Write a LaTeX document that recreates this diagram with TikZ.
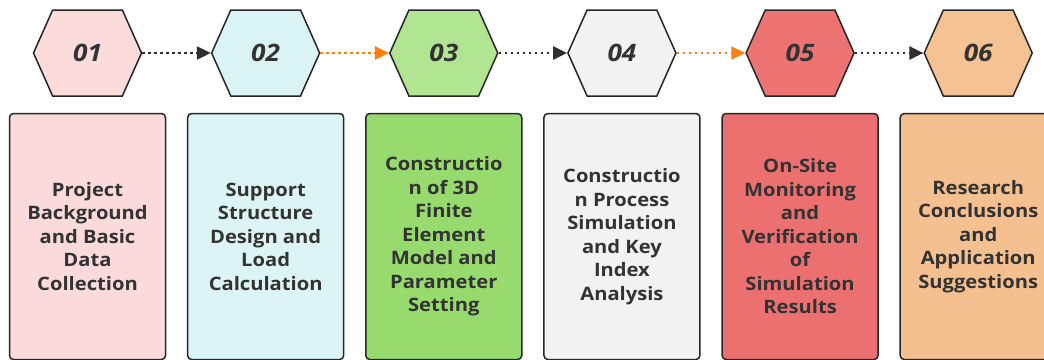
\documentclass[tikz,border=0pt]{standalone}
\usepackage{fontspec}
\setmainfont{Open Sans}
\newfontfamily\stagefont{Open Sans}[FakeStretch=1.09]
\usetikzlibrary{positioning, shapes.symbols, arrows.meta}
\definecolor{ink}{HTML}{333333}
\definecolor{edge}{HTML}{262626}
\definecolor{flowdark}{HTML}{2E2E2E}
\definecolor{floworange}{HTML}{FF7F0E}
% stage colours (hexagon / box)
\definecolor{hexA}{HTML}{FBDCDB}
\definecolor{hexB}{HTML}{DAF4F5}
\definecolor{hexC}{HTML}{B1E592}
\definecolor{hexD}{HTML}{F2F2F2}
\definecolor{hexE}{HTML}{EE7373}
\definecolor{hexF}{HTML}{F5C393}
\definecolor{boxA}{HTML}{FADADA}
\definecolor{boxB}{HTML}{DCF4F5}
\definecolor{boxC}{HTML}{97DA6D}
\definecolor{boxD}{HTML}{F2F2F2}
\definecolor{boxE}{HTML}{EC7070}
\definecolor{boxF}{HTML}{F5C090}

\begin{document}
\begin{tikzpicture}[x=1pt,y=1pt,
    stephex/.style={signal, signal to=east and west, signal pointer angle=132,
      draw=edge, line width=1.5pt, minimum width=108pt, minimum height=86pt,
      inner sep=0pt, text=ink, font=\stagefont\bfseries\itshape\fontsize{24}{24}\selectfont},
    stepbox/.style={rounded corners=4pt, draw=edge, line width=1.5pt,
      minimum width=156pt, minimum height=246pt, inner sep=2pt, align=center,
      text=ink, font=\stagefont\bfseries\fontsize{18.5}{23.5}\selectfont},
    flow/.style={line width=2.2pt, dash pattern=on 2.5pt off 3.5pt,
      -{Triangle[length=14pt,width=13pt]}}]
    \clip (0,0) rectangle (1044,-359);
    % numbered hexagons along the top
    \node[stephex, fill=hexA] (H1) at (87.5,-53) {01};
    \foreach \i/\p/\c in {2/1/hexB,3/2/hexC,4/3/hexD,5/4/hexE,6/5/hexF} {
      \node[stephex, fill=\c, right=68.5pt of H\p.east, anchor=west] (H\i) {0\i};
    }
    % dotted links between the stages
    \foreach \p/\i/\c in {1/2/flowdark,2/3/floworange,3/4/flowdark,4/5/floworange,5/6/flowdark} {
      \draw[flow, \c] (H\p.east) -- (H\i.west);
    }
    % description boxes
    \node[stepbox, fill=boxA, below=16pt of H1] (B1) {Project\\Background\\and Basic\\Data\\Collection};
    \node[stepbox, fill=boxB, below=16pt of H2] (B2) {Support\\Structure\\Design and\\Load\\Calculation};
    \node[stepbox, fill=boxC, below=16pt of H3] (B3) {Constructio\\n of 3D\\Finite\\Element\\Model and\\Parameter\\Setting};
    \node[stepbox, fill=boxD, below=16pt of H4] (B4) {Constructio\\n Process\\Simulation\\and Key\\Index\\Analysis};
    \node[stepbox, fill=boxE, below=16pt of H5] (B5) {On-Site\\Monitoring\\and\\Verification\\of\\Simulation\\Results};
    \node[stepbox, fill=boxF, below=16pt of H6] (B6) {Research\\Conclusions\\and\\Application\\Suggestions};
\end{tikzpicture}
\end{document}
